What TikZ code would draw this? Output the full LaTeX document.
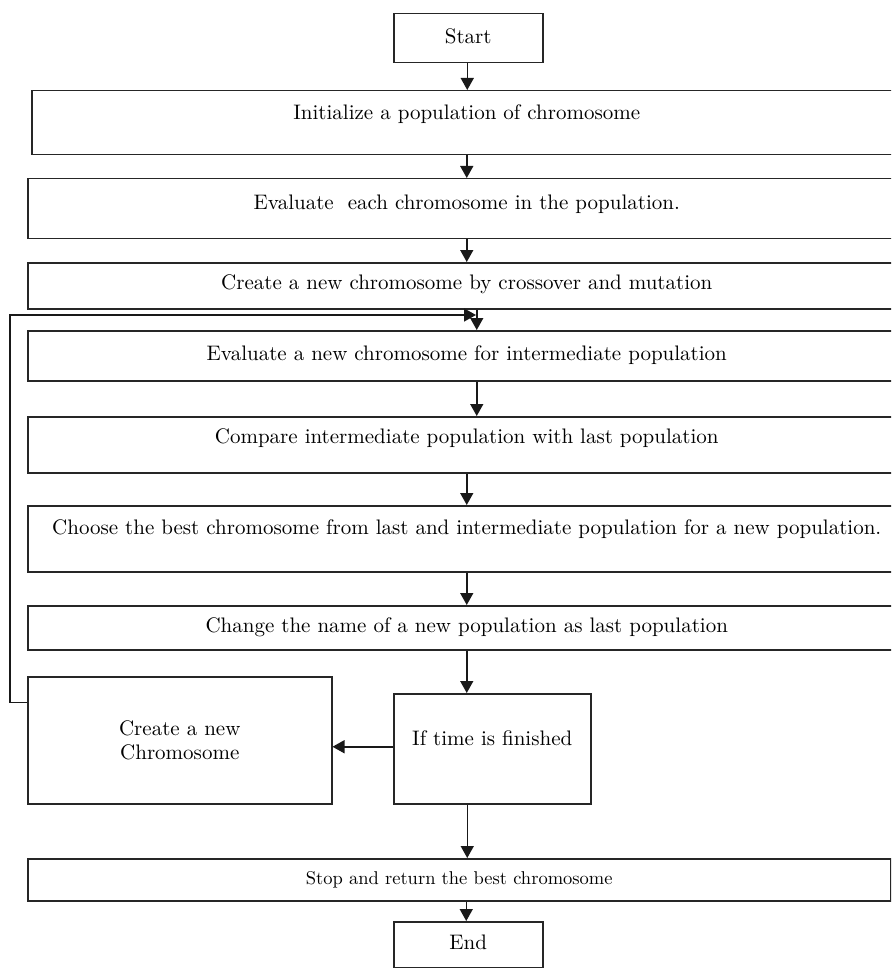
\documentclass[tikz,border=0pt]{standalone}
\usepackage{fontspec}
\setmainfont{lmroman10-regular.otf}
\usetikzlibrary{arrows.meta,calc}
\begin{document}
\begin{tikzpicture}[x=1pt,y=-1pt,
  box/.style={draw=black!85, line width=1.5pt, inner sep=0pt, anchor=north west, align=center,
              font=\fontsize{21}{24}\selectfont},
  arr/.style={draw=black!90, line width=1.5pt, -{Triangle[length=12pt,width=13pt]}}]
\useasboundingbox (0,0) rectangle (891,968);
\begin{scope}
\clip (0,0) rectangle (891,968);
\node[box, text width=149pt, text height=30pt, text depth=19pt] (start) at (393,13) {Start};
\node[box, text width=870pt, text height=29pt, text depth=35pt] (init) at (31,90) {Initialize a population of chromosome};
\node[box, text width=878pt, text height=31pt, text depth=29pt] (eval) at (27,178) {Evaluate~ each chromosome in the population.};
\node[box, text width=878pt, text height=27pt, text depth=19pt] (create) at (27,262) {Create a new chromosome by crossover and mutation};
\node[box, text width=878pt, text height=30pt, text depth=20pt] (evalnew) at (27,330) {Evaluate a new chromosome for intermediate population};
\node[box, text width=878pt, text height=27pt, text depth=29pt] (compare) at (27,416) {Compare intermediate population with last population};
\node[box, text width=878pt, text height=29pt, text depth=37pt] (choose) at (27,505) {Choose the best chromosome from last and intermediate population for a new population.};
\node[box, text width=878pt, text height=27pt, text depth=17pt] (change) at (27,605) {Change the name of a new population as last population};
\node[box, text width=304pt, minimum height=127pt] (cnew) at (27,676) {Create a new\\Chromosome};
\node[box, text width=197pt, text height=52pt, text depth=58pt] (iff) at (393,693) {If time is finished};
\node[box, text width=863pt, text height=26pt, text depth=16pt, font=\fontsize{18.5}{22}\selectfont] (stop) at (27,858) {Stop and return the best chromosome};
\node[box, text width=149pt, text height=28pt, text depth=18pt] (end) at (393,921) {End};
\coordinate (lc) at (10,315);
\coordinate (loopend) at (476,315);
\draw[arr] ([xshift=-1pt]start.south) -- ([xshift=-1pt]start.south |- init.north);
\draw[arr] (init.south) -- (init.south |- eval.north);
\draw[arr] (eval.south) -- (eval.south |- create.north);
\draw[arr] ([xshift=10pt]create.south) -- ([xshift=10pt]create.south |- evalnew.north);
\draw[arr] ([xshift=10pt]evalnew.south) -- ([xshift=10pt]evalnew.south |- compare.north);
\draw[arr] (compare.south) -- (compare.south |- choose.north);
\draw[arr] (choose.south) -- (choose.south |- change.north);
\draw[arr] (change.south) -- (change.south |- iff.north);
\draw[arr] ([yshift=2pt]iff.west) -- ([yshift=2pt]iff.west -| cnew.east);
\draw[arr] ([xshift=-25pt]iff.south) -- ([xshift=-25pt]iff.south |- stop.north);
\draw[arr] ([xshift=7pt]stop.south) -- ([xshift=7pt]stop.south |- end.north);
\draw[arr] ([yshift=38pt]cnew.west) -| (lc) -- (loopend);
\end{scope}
\end{tikzpicture}
\end{document}
